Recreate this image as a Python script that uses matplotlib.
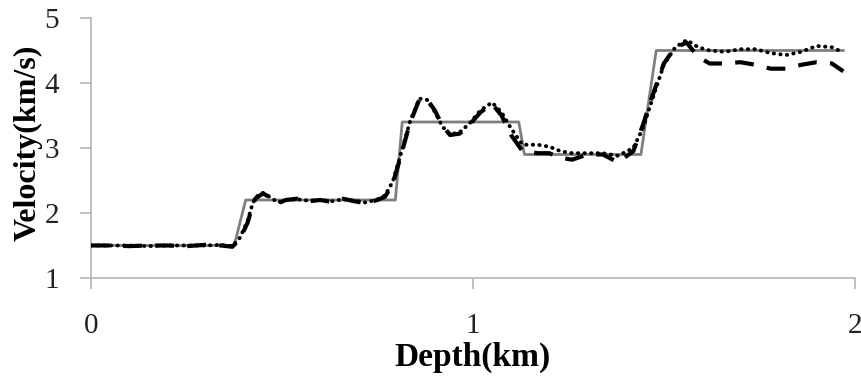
import matplotlib
matplotlib.use("Agg")
import matplotlib.pyplot as plt

# true (layered) model
depth_true = [0.0, 0.375, 0.405, 0.797, 0.815, 1.12, 1.135, 1.44, 1.48, 1.97]
vel_true = [1.5, 1.5, 2.2, 2.2, 3.4, 3.4, 2.9, 2.9, 4.5, 4.5]

# inversion result 1 (dashed)
depth_a = [0.00, 0.05, 0.10, 0.15, 0.20, 0.25, 0.30, 0.34, 0.37, 0.39, 0.41, 0.42,
           0.43, 0.45, 0.47, 0.49, 0.51, 0.54, 0.57, 0.60, 0.63, 0.66, 0.69, 0.72,
           0.75, 0.77, 0.79, 0.81, 0.835, 0.86, 0.88, 0.90, 0.92, 0.94, 0.965, 0.99,
           1.02, 1.05, 1.075, 1.10, 1.13, 1.17, 1.20, 1.23, 1.26, 1.30, 1.34, 1.38,
           1.42, 1.445, 1.47, 1.50, 1.53, 1.56, 1.59, 1.62, 1.66, 1.70, 1.74, 1.78,
           1.82, 1.86, 1.90, 1.94, 1.97]
vel_a = [1.50, 1.50, 1.49, 1.50, 1.50, 1.49, 1.51, 1.50, 1.48, 1.60, 1.85, 2.05,
         2.22, 2.30, 2.24, 2.15, 2.20, 2.22, 2.18, 2.20, 2.17, 2.22, 2.18, 2.15,
         2.20, 2.25, 2.45, 2.85, 3.38, 3.75, 3.75, 3.58, 3.35, 3.20, 3.22, 3.35,
         3.55, 3.68, 3.50, 3.20, 2.95, 2.92, 2.92, 2.85, 2.82, 2.90, 2.90, 2.78,
         2.95, 3.35, 3.80, 4.30, 4.55, 4.62, 4.40, 4.30, 4.30, 4.32, 4.28, 4.22,
         4.22, 4.28, 4.32, 4.30, 4.18]

# inversion result 2 (dotted)
depth_b = depth_a
vel_b = [1.50, 1.50, 1.50, 1.49, 1.50, 1.50, 1.50, 1.51, 1.49, 1.62, 1.88, 2.08,
         2.24, 2.31, 2.24, 2.16, 2.20, 2.21, 2.19, 2.20, 2.18, 2.21, 2.19, 2.16,
         2.21, 2.27, 2.48, 2.88, 3.40, 3.76, 3.74, 3.56, 3.33, 3.21, 3.24, 3.37,
         3.58, 3.70, 3.55, 3.30, 3.05, 3.05, 3.02, 2.95, 2.92, 2.92, 2.92, 2.88,
         3.00, 3.30, 3.75, 4.28, 4.55, 4.66, 4.55, 4.50, 4.48, 4.52, 4.52, 4.46,
         4.43, 4.48, 4.57, 4.55, 4.47]

fig = plt.figure(figsize=(8.62, 3.87), dpi=100)
ax = fig.add_axes([0.1056, 0.2817, 0.886, 0.6718])

ax.plot(depth_true, vel_true, color="#7f7f7f", lw=2.0, zorder=2)
ax.plot(depth_a, vel_a, color="black", lw=3.0, ls=(0, (4.5, 3.2)), zorder=3)
ax.plot(depth_b, vel_b, color="black", lw=2.8, ls=(0, (0.1, 1.6)),
        dash_capstyle="round", zorder=4)

ax.set_xlim(0, 2)
ax.set_ylim(1, 5)
ax.set_xticks([0, 1, 2])
ax.set_yticks([1, 2, 3, 4, 5])

for s in ["top", "right"]:
    ax.spines[s].set_visible(False)
for s in ["left", "bottom"]:
    ax.spines[s].set_color("#b5b5b5")
    ax.spines[s].set_linewidth(1.2)

serif = ["Liberation Serif", "DejaVu Serif"]
ax.tick_params(axis="both", colors="#b5b5b5", length=8, width=1.2, labelcolor="#222222")
ax.tick_params(axis="y", pad=15)
ax.tick_params(axis="x", pad=17)
for lab in ax.get_xticklabels() + ax.get_yticklabels():
    lab.set_family(serif)
    lab.set_fontsize(21)

ax.set_xlabel("Depth(km)", family=serif, fontsize=24, fontweight="bold", labelpad=2)
ax.set_ylabel("Velocity(km/s)", family=serif, fontsize=23, fontweight="bold")
ax.yaxis.set_label_coords(-0.064, 0.52)

fig.savefig("out.png", dpi=100)
